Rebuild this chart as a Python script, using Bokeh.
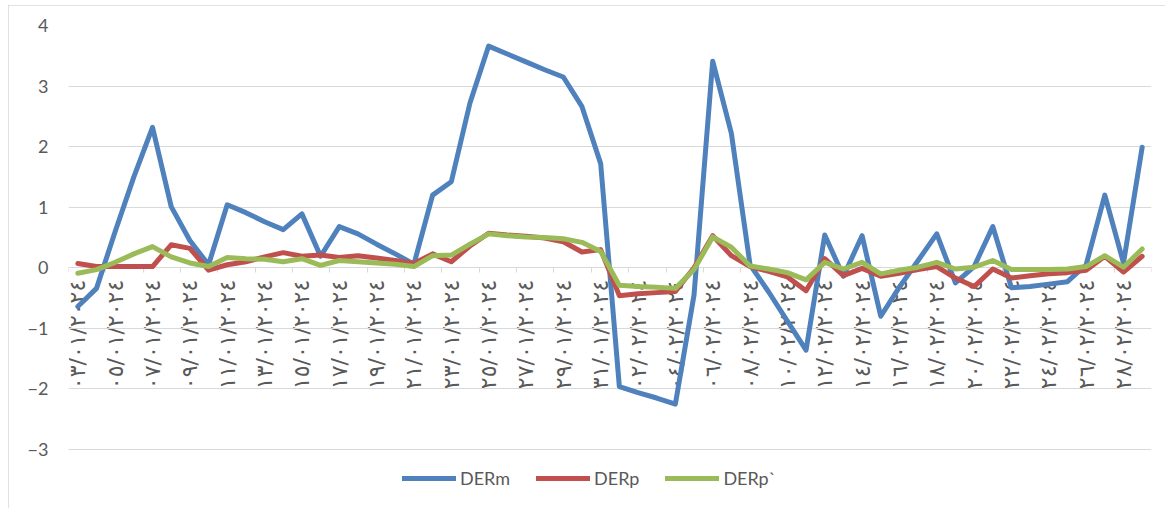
import math
from bokeh.plotting import figure
from bokeh.models import LinearAxis, FixedTicker, Range1d, Legend, LegendItem
from bokeh.embed import file_html
from bokeh.resources import INLINE

# --- data (daily, 03/01/2024 .. 29/02/2024) ---
der_m = [-0.64, -0.34, 0.60, 1.50, 2.32, 1.01, 0.45, 0.05, 1.04, 0.91,
         0.76, 0.63, 0.89, 0.19, 0.68, 0.56, 0.39, 0.23, 0.06, 1.20,
         1.42, 2.72, 3.66, 3.53, 3.40, 3.27, 3.15, 2.66, 1.72, -1.96,
         -2.06, -2.15, -2.25, -0.45, 3.41, 2.22, 0.05, -0.40, -0.88, -1.36,
         0.54, -0.14, 0.53, -0.80, -0.32, 0.12, 0.56, -0.25, 0.02, 0.68,
         -0.33, -0.31, -0.27, -0.23, 0.05, 1.20, 0.08, 1.99]
der_p = [0.07, 0.02, 0.02, 0.02, 0.02, 0.38, 0.32, -0.04, 0.05, 0.10,
         0.18, 0.25, 0.19, 0.21, 0.17, 0.20, 0.16, 0.12, 0.07, 0.23,
         0.10, 0.36, 0.57, 0.54, 0.52, 0.49, 0.43, 0.26, 0.30, -0.46,
         -0.43, -0.41, -0.39, 0.00, 0.53, 0.20, 0.02, -0.06, -0.15, -0.38,
         0.15, -0.13, -0.01, -0.14, -0.09, -0.03, 0.02, -0.17, -0.31, -0.02,
         -0.17, -0.13, -0.10, -0.08, -0.04, 0.19, -0.07, 0.19]
der_p2 = [-0.09, -0.03, 0.09, 0.23, 0.35, 0.18, 0.08, 0.02, 0.17, 0.15,
          0.14, 0.10, 0.15, 0.04, 0.12, 0.10, 0.08, 0.06, 0.02, 0.20,
          0.21, 0.39, 0.56, 0.53, 0.51, 0.50, 0.48, 0.42, 0.27, -0.29,
          -0.31, -0.32, -0.34, -0.03, 0.51, 0.34, 0.03, -0.02, -0.08, -0.20,
          0.09, -0.02, 0.09, -0.10, -0.04, 0.01, 0.09, -0.02, 0.01, 0.12,
          -0.03, -0.03, -0.03, -0.02, 0.02, 0.20, 0.01, 0.31]

# labels shown for every other day
tick_labels = [
    "٠٣/٠١/٢٠٢٤", "٠٥/٠١/٢٠٢٤", "٠٧/٠١/٢٠٢٤", "٠٩/٠١/٢٠٢٤", "١١/٠١/٢٠٢٤",
    "١٣/٠١/٢٠٢٤", "١٥/٠١/٢٠٢٤", "١٧/٠١/٢٠٢٤", "١٩/٠١/٢٠٢٤", "٢١/٠١/٢٠٢٤",
    "٢٣/٠١/٢٠٢٤", "٢٥/٠١/٢٠٢٤", "٢٧/٠١/٢٠٢٤", "٢٩/٠١/٢٠٢٤", "٣١/٠١/٢٠٢٤",
    "٠٢/٠٢/٢٠٢٤", "٠٤/٠٢/٢٠٢٤", "٠٦/٠٢/٢٠٢٤", "٠٨/٠٢/٢٠٢٤", "١٠/٠٢/٢٠٢٤",
    "١٢/٠٢/٢٠٢٤", "١٤/٠٢/٢٠٢٤", "١٦/٠٢/٢٠٢٤", "١٨/٠٢/٢٠٢٤", "٢٠/٠٢/٢٠٢٤",
    "٢٢/٠٢/٢٠٢٤", "٢٤/٠٢/٢٠٢٤", "٢٦/٠٢/٢٠٢٤", "٢٨/٠٢/٢٠٢٤",
]
series_names = ["DERm", "DERp", "DERp`"]
colors = ["#4f81bd", "#c0504d", "#9bbb59"]
y_ticks = [-3, -2, -1, 0, 1, 2, 3, 4]

n = len(der_m)
x = list(range(n))
label_pos = list(range(0, n, 2))[:len(tick_labels)]
boundary_ticks = [i - 0.5 for i in range(0, n + 1, 2)]

GRID = "#d9d9d9"
TXT = "#595959"

# frame continues below -3 to leave room for the legend
px_per_unit = 424 / 7
legend_room = 59 / px_per_unit

p = figure(width=1157, height=503, x_range=Range1d(-0.5, n - 0.5),
           y_range=Range1d(-3 - legend_room, 4), output_backend="svg",
           toolbar_location=None, x_axis_location=None,
           min_border_left=60, min_border_right=14,
           min_border_top=20, min_border_bottom=0)
p.styles = {"outline": "1px solid #d9d9d9", "outline-offset": "-1px",
            "margin-left": "8px", "margin-top": "5px"}
p.outline_line_color = None
p.xgrid.visible = False
p.ygrid.grid_line_color = GRID
p.ygrid.grid_line_width = 1

ya = p.yaxis[0]
ya.ticker = FixedTicker(ticks=y_ticks)
ya.axis_line_color = None
ya.major_tick_line_color = None
ya.minor_tick_line_color = None
ya.major_tick_in = 0
ya.major_tick_out = 0
ya.major_label_standoff = 20
ya.major_label_text_font = "Lato"
ya.major_label_text_font_size = "18px"
ya.major_label_text_color = TXT

# category axis crossing at y = 0: tick marks between categories
xa_ticks = LinearAxis(ticker=FixedTicker(ticks=boundary_ticks), fixed_location=0)
xa_ticks.axis_line_color = GRID
xa_ticks.major_tick_line_color = GRID
xa_ticks.major_tick_in = 0
xa_ticks.major_tick_out = 5
xa_ticks.minor_tick_line_color = None
xa_ticks.major_label_text_color = None
xa_ticks.major_label_text_font_size = "0px"
xa_ticks.level = "underlay"
p.add_layout(xa_ticks, "below")

# date labels, reading bottom-to-top
xa_lab = LinearAxis(ticker=FixedTicker(ticks=label_pos), fixed_location=0)
xa_lab.major_label_overrides = {pos: lab for pos, lab in zip(label_pos, tick_labels)}
xa_lab.axis_line_color = None
xa_lab.major_tick_line_color = None
xa_lab.minor_tick_line_color = None
xa_lab.major_tick_in = 0
xa_lab.major_tick_out = 0
xa_lab.major_label_standoff = 12
xa_lab.major_label_orientation = math.pi / 2
xa_lab.major_label_text_font = "DejaVu Sans"
xa_lab.major_label_text_font_size = "22px"
xa_lab.major_label_text_color = TXT
xa_lab.level = "underlay"
p.add_layout(xa_lab, "below")

items = []
for vals, name, col in zip([der_m, der_p, der_p2], series_names, colors):
    r = p.line(x, vals, line_color=col, line_width=5, line_join="round",
               line_cap="round")
    items.append(LegendItem(label=name, renderers=[r]))

lg = Legend(items=items, orientation="horizontal", location=(334, 19))
lg.glyph_width = 54
lg.glyph_height = 20
lg.label_standoff = 4
lg.spacing = 26
lg.padding = 0
lg.margin = 0
lg.border_line_color = None
lg.background_fill_alpha = 0
lg.label_text_font = "Lato"
lg.label_text_font_size = "18px"
lg.label_text_color = TXT
p.add_layout(lg, "center")

open("out.html", "w").write(file_html(p, INLINE))
